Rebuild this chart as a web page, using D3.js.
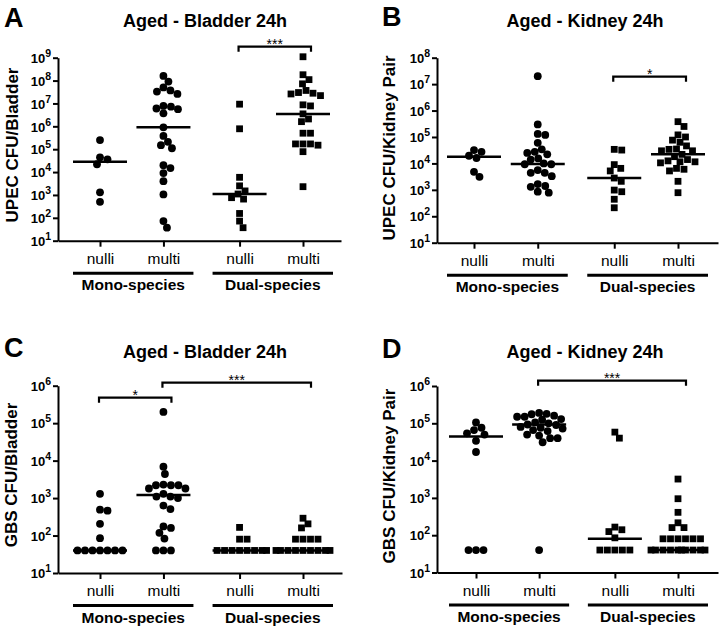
<!DOCTYPE html>
<html>
<head>
<meta charset="utf-8">
<script src="https://cdn.jsdelivr.net/npm/d3@7"></script>
<style>
body { margin: 0; background: #fff; }
svg { font-family: "Liberation Sans", Arial, sans-serif; }
</style>
</head>
<body>
<script>
var categories = ['nulli', 'multi', 'nulli', 'multi'];
var groupNames = ['Mono-species', 'Dual-species'];

// A - UPEC CFU/Bladder
var aMonoNulli = [2.5e5, 4.4e4, 3.6e4, 2.2e4, 1.3e3, 5.0e2];
var aMonoMulti = [1.6e8, 9e7, 5e7, 3.7e7, 3.3e7, 2.6e7, 7.8e6, 7.2e6, 6e6, 5.6e6, 3.7e6, 9e5, 3.8e5, 2.1e5, 1.5e5, 1.1e5, 2e4, 1.5e4, 9e3, 4e3, 1.05e3, 72, 37];
var aDualNulli = [9.3e6, 7.8e5, 5.9e3, 2.5e3, 1.5e3, 1.1e3, 760, 660, 155, 72, 37];
var aDualMulti = [1.1e9, 1.8e8, 1.1e8, 7.2e7, 3.7e7, 3e7, 2.8e7, 2.6e7, 2.2e7, 8.7e6, 7.8e6, 3.5e6, 2.1e6, 1.6e6, 5e5, 5e5, 1.7e5, 1.7e5, 1.7e5, 1.5e5, 7.8e4, 2.3e3];
var aMedians = [2.8e4, 9e5, 1.1e3, 3.5e6];

// B - UPEC CFU/Kidney Pair
var bMonoNulli = [3.2e4, 2.75e4, 1.95e4, 1.6e4, 4.8e3, 3.1e3];
var bMonoMulti = [2e7, 3e5, 1.3e5, 1.2e5, 6e4, 3.4e4, 2.75e4, 2.5e4, 2.2e4, 1.55e4, 1.4e4, 1e4, 9.3e3, 9.3e3, 5.6e3, 4.4e3, 4.4e3, 3.3e3, 1.65e3, 1.4e3, 1.3e3, 850, 780];
var bDualNulli = [3.4e4, 3.2e4, 9e3, 6.5e3, 5.2e3, 2.8e3, 2.1e3, 980, 850, 440, 210];
var bDualMulti = [3.8e5, 2.5e5, 1.2e5, 1e5, 7.6e4, 6.3e4, 4.6e4, 3.5e4, 3.4e4, 3e4, 3e4, 2.2e4, 1.8e4, 1.4e4, 1.25e4, 1.15e4, 1.15e4, 1.05e4, 6.5e3, 6e3, 5.2e3, 2.1e3, 780];
var bMedians = [1.8e4, 9.5e3, 2.8e3, 2.2e4];

// C - GBS CFU/Bladder
var cMonoNulli = [1.3e3, 490, 460, 205, 85, 40, 40, 40, 40, 40, 40, 40];
var cMonoMulti = [2e5, 6.9e3, 4.4e3, 2.3e3, 2.2e3, 2.2e3, 2.2e3, 1.8e3, 1.8e3, 1.3e3, 1.1e3, 1.1e3, 1e3, 630, 510, 175, 160, 118, 83, 40, 40, 40];
var cDualNulli = [165, 80, 80, 40, 40, 40, 40, 40, 40, 40, 40];
var cDualMulti = [290, 205, 160, 80, 80, 80, 80, 40, 40, 40, 40, 40, 40, 40, 40, 40];
var cMedians = [40, 1.2e3, 40, 40];

// D - GBS CFU/Kidney Pair
var dMonoNulli = [1.05e5, 7.6e4, 6.6e4, 5.4e4, 5e4, 3.4e4, 1.7e4, 40, 40, 40];
var dMonoMulti = [1.9e5, 1.8e5, 1.75e5, 1.6e5, 1.5e5, 1.5e5, 1.3e5, 1.25e5, 1.05e5, 1e5, 9.3e4, 9e4, 8e4, 7.6e4, 7.2e4, 6.6e4, 6.2e4, 5e4, 4.7e4, 4e4, 4e4, 3.1e4, 40];
var dDualNulli = [5.8e4, 4e4, 165, 140, 125, 85, 40, 40, 40, 40, 40];
var dDualMulti = [3.2e3, 950, 410, 215, 160, 160, 80, 80, 80, 80, 80, 80, 40, 40, 40, 40, 40, 40, 40, 40, 40, 40];
var dMedians = [4.4e4, 9.3e4, 80, 40];

var slots = [0, 1, 2.2, 3.2];

var panels = [
    { letter: 'A', title: 'Aged - Bladder 24h', ylabel: 'UPEC CFU/Bladder', yDomain: [10, 1e9],
      series: [aMonoNulli, aMonoMulti, aDualNulli, aDualMulti], medians: aMedians,
      brackets: [{ a: 2, b: 3, label: '***', y: 46.7 }],
      left: 58, right: 341, top: 57.7, bottom: 240.7, x0: 100, x3: 303,
      letterPos: [4, 27], titlePos: [205, 27.3], ylabelPos: [18, 145] },
    { letter: 'B', title: 'Aged - Kidney 24h', ylabel: 'UPEC CFU/Kidney Pair', yDomain: [10, 1e8],
      series: [bMonoNulli, bMonoMulti, bDualNulli, bDualMulti], medians: bMedians,
      brackets: [{ a: 2, b: 3, label: '*', y: 76.7 }],
      left: 437, right: 718, top: 57.7, bottom: 242.7, x0: 474, x3: 678,
      letterPos: [382, 26], titlePos: [585, 27.3], ylabelPos: [395, 148] },
    { letter: 'C', title: 'Aged - Bladder 24h', ylabel: 'GBS CFU/Bladder', yDomain: [10, 1e6],
      series: [cMonoNulli, cMonoMulti, cDualNulli, cDualMulti], medians: cMedians,
      brackets: [{ a: 0, b: 1, label: '*', y: 397.7 }, { a: 1, b: 3, label: '***', y: 382.7 }],
      left: 58, right: 342, top: 385.7, bottom: 573, x0: 100, x3: 303,
      letterPos: [4, 356.7], titlePos: [205, 357.7], ylabelPos: [17, 475] },
    { letter: 'D', title: 'Aged - Kidney 24h', ylabel: 'GBS CFU/Kidney Pair', yDomain: [10, 1e6],
      series: [dMonoNulli, dMonoMulti, dDualNulli, dDualMulti], medians: dMedians,
      brackets: [{ a: 1, b: 3, label: '***', y: 380.7 }],
      left: 437, right: 718, top: 386, bottom: 572.5, x0: 476, x3: 678,
      letterPos: [382, 357.7], titlePos: [585, 357.7], ylabelPos: [395, 476] }
];

var svg = d3.select('body').append('svg')
    .attr('width', 722)
    .attr('height', 630);

// simple beeswarm: put each point as near the centre as it can go
function swarm(values, yScale, d, maxHalf) {
    var pts = values.map(function (v) { return { v: v, y: yScale(v), dx: 0 }; });
    pts.sort(function (a, b) { return a.y - b.y; });
    var placed = [];
    pts.forEach(function (p) {
        var best = 0, bestGap = -1;
        for (var k = 0; k <= maxHalf * 4; k++) {
            var off = (k % 2 === 1 ? 1 : -1) * Math.ceil(k / 2) * 0.5;
            var gap = Infinity;
            placed.forEach(function (q) {
                var dd = Math.hypot(q.dx - off, q.y - p.y);
                if (dd < gap) gap = dd;
            });
            if (gap >= d) { best = off; break; }
            if (gap > bestGap) { bestGap = gap; best = off; }
        }
        p.dx = best;
        placed.push(p);
    });
    return pts;
}

function drawPanel(p) {
    var g = svg.append('g');

    var yScale = d3.scaleLog().domain(p.yDomain).range([p.bottom, p.top]);
    var unit = (p.x3 - p.x0) / 3.2;
    var xScale = d3.scaleLinear()
        .domain([(p.left - p.x0) / unit, 3.2 + (p.right - p.x3) / unit])
        .range([p.left, p.right]);

    var pows = [];
    for (var e = Math.log10(p.yDomain[0]); e <= Math.log10(p.yDomain[1]); e++) pows.push(Math.pow(10, e));

    // Y-axis
    var yAxisG = g.append('g')
        .attr('transform', 'translate(' + p.left + ',0)')
        .call(d3.axisLeft(yScale).tickValues(pows).tickSize(5).tickSizeOuter(0).tickFormat(''));
    yAxisG.selectAll('path, line').attr('stroke', '#000').attr('stroke-width', 2);
    yAxisG.selectAll('.tick text').each(function (d) {
        var t = d3.select(this);
        t.text(null)
            .attr('x', -7)
            .attr('dy', '0.36em')
            .attr('fill', '#000')
            .style('font-family', '"Liberation Sans", Arial, sans-serif')
            .style('font-size', '13px')
            .style('font-weight', 'bold');
        t.append('tspan').text('10');
        t.append('tspan')
            .attr('dy', '-6')
            .style('font-size', '10.5px')
            .text(Math.round(Math.log10(d)));
    });

    // X-axis
    var xAxisG = g.append('g')
        .attr('transform', 'translate(0,' + p.bottom + ')')
        .call(d3.axisBottom(xScale).tickValues(slots).tickSize(6).tickPadding(6).tickSizeOuter(0)
            .tickFormat(function (d, i) { return categories[i]; }));
    xAxisG.selectAll('path, line').attr('stroke', '#000').attr('stroke-width', 2);
    xAxisG.selectAll('.tick text')
        .attr('fill', '#000')
        .style('font-family', '"Liberation Sans", Arial, sans-serif')
        .style('font-size', '15.5px');

    // group underlines + names
    groupNames.forEach(function (name, gi) {
        var xa = xScale(slots[gi * 2]) - 27;
        var xb = xScale(slots[gi * 2 + 1]) + 30;
        g.append('line')
            .attr('x1', xa).attr('x2', xb)
            .attr('y1', p.bottom + 32.5).attr('y2', p.bottom + 32.5)
            .attr('stroke', '#000').attr('stroke-width', 3);
        g.append('text')
            .attr('x', (xa + xb) / 2)
            .attr('y', p.bottom + 49.5)
            .attr('text-anchor', 'middle')
            .style('font-size', '15.5px')
            .style('font-weight', 'bold')
            .text(name);
    });

    // points
    p.series.forEach(function (vals, si) {
        var cx = xScale(slots[si]);
        var pts = swarm(vals, yScale, 7.4, 27);
        if (si < 2) {
            g.selectAll(null).data(pts).enter()
                .append('circle')
                .attr('cx', function (d) { return cx + d.dx; })
                .attr('cy', function (d) { return d.y; })
                .attr('r', 3.9)
                .attr('fill', '#000');
        } else {
            g.selectAll(null).data(pts).enter()
                .append('rect')
                .attr('x', function (d) { return cx + d.dx - 3.4; })
                .attr('y', function (d) { return d.y - 3.4; })
                .attr('width', 6.8)
                .attr('height', 6.8)
                .attr('fill', '#000');
        }
        // median line
        g.append('line')
            .attr('x1', cx - 27).attr('x2', cx + 27)
            .attr('y1', yScale(p.medians[si])).attr('y2', yScale(p.medians[si]))
            .attr('stroke', '#000').attr('stroke-width', 2.5);
    });

    // significance brackets
    p.brackets.forEach(function (b) {
        var xa = xScale(slots[b.a]) - 1;
        var xb = xScale(slots[b.b]) + 8;
        g.append('path')
            .attr('d', 'M' + xa + ',' + (b.y + 5) + 'V' + b.y + 'H' + xb + 'V' + (b.y + 5))
            .attr('fill', 'none')
            .attr('stroke', '#000')
            .attr('stroke-width', 2.2);
        g.append('text')
            .attr('x', (xa + xb) / 2)
            .attr('y', b.y + 2)
            .attr('text-anchor', 'middle')
            .style('font-size', '14px')
            .text(b.label);
    });

    // titles and labels
    g.append('text')
        .attr('x', p.letterPos[0]).attr('y', p.letterPos[1])
        .style('font-size', '27px')
        .style('font-weight', 'bold')
        .text(p.letter);
    g.append('text')
        .attr('x', p.titlePos[0]).attr('y', p.titlePos[1])
        .attr('text-anchor', 'middle')
        .style('font-size', '18px')
        .style('font-weight', 'bold')
        .text(p.title);
    g.append('text')
        .attr('transform', 'translate(' + p.ylabelPos[0] + ',' + p.ylabelPos[1] + ') rotate(-90)')
        .attr('text-anchor', 'middle')
        .style('font-size', '17px')
        .style('font-weight', 'bold')
        .text(p.ylabel);
}

panels.forEach(drawPanel);
</script>
</body>
</html>
